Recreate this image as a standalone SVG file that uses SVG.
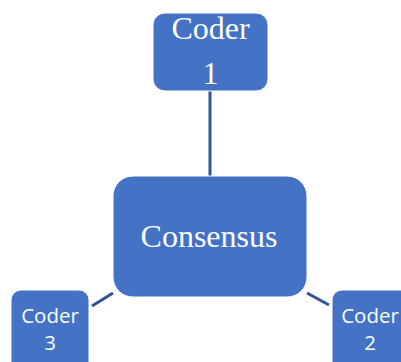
<svg xmlns="http://www.w3.org/2000/svg" width="401" height="362" viewBox="0 0 401 362">
<style>
.box{fill:#4472C4;stroke:#ffffff;stroke-width:1}
.serif{font-family:"Liberation Serif",serif;fill:#ffffff;text-anchor:middle}
.sans{font-family:"Open Sans","Liberation Sans",sans-serif;fill:#ffffff;text-anchor:middle;font-size:20.5px}
.conn{stroke:#2F5597;stroke-width:3;fill:none}
</style>
<rect width="401" height="362" fill="#ffffff"/>
<g id="connectors">
<line class="conn" x1="210" y1="91" x2="210" y2="176"/>
<line class="conn" x1="92" y1="306" x2="113" y2="293"/>
<line class="conn" x1="307" y1="293" x2="329" y2="305"/>
</g>
<g id="coder1">
<rect class="box" x="153" y="13" width="115" height="78" rx="12"/>
<text class="serif" x="210.5" y="39" font-size="32">Coder</text>
<text class="serif" x="210.5" y="84" font-size="32">1</text>
</g>
<g id="consensus">
<rect class="box" x="113" y="176" width="194" height="121" rx="20"/>
<text class="serif" x="209" y="247" font-size="32">Consensus</text>
</g>
<g id="coder3">
<rect class="box" x="11" y="290" width="78" height="90" rx="10"/>
<text class="sans" x="50" y="323">Coder</text>
<text class="sans" x="50" y="350">3</text>
</g>
<g id="coder2">
<rect class="box" x="332" y="290" width="80" height="90" rx="10"/>
<text class="sans" x="370" y="323">Coder</text>
<text class="sans" x="370" y="350">2</text>
</g>
</svg>
